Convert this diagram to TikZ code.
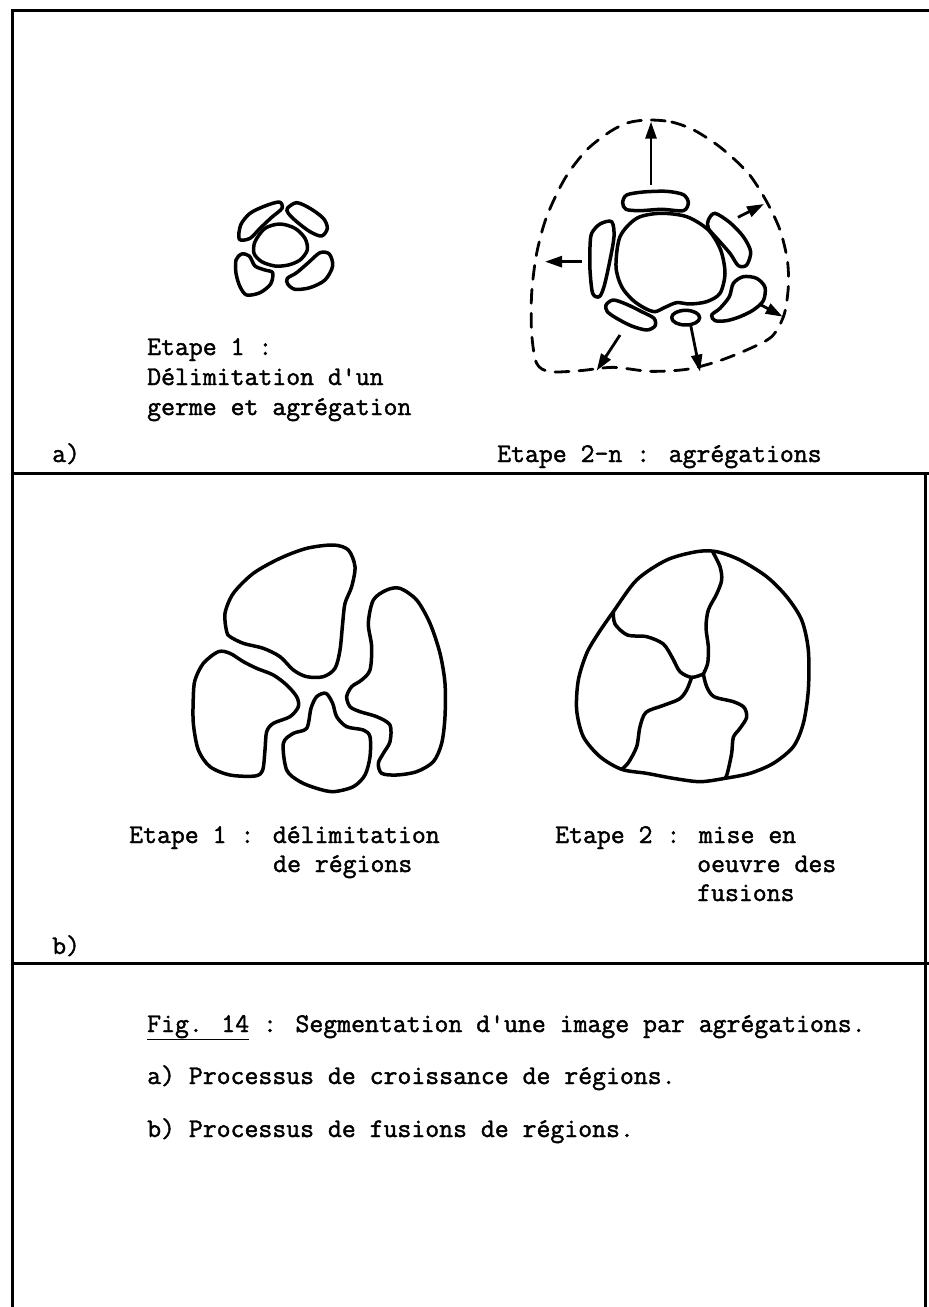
\documentclass[tikz,border=0pt]{standalone}
\usepackage{fontspec}
\newfontfamily\tw[FakeBold=1.6]{Latin Modern Mono}
\usetikzlibrary{arrows.meta}
\begin{document}
\begin{tikzpicture}[x=1pt,y=-1pt,
  blob/.style={line width=3.5pt, line join=round},
  frameline/.style={line width=3pt},
  lbl/.style={font=\tw\fontsize{27}{30}\selectfont, anchor=base west, inner sep=0pt},
  growarrow/.style={line width=2.8pt, -{Triangle[length=17pt,width=11pt]}},
  envelope/.style={line width=2.8pt, dash pattern=on 14pt off 10pt, line cap=round}]
\useasboundingbox (0,0) rectangle (929,1307);
% frame
\draw[frameline] (12,1307) -- (12,10) -- (929,10);
\draw[frameline] (12,473) -- (929,473);
\draw[frameline] (12,963) -- (929,963);
\draw[frameline] (925,473) -- (925,1307);

% a) step 1
\begin{scope}[shift={(200,160)}, scale=1/3]
\draw[blob] plot[smooth cycle] coordinates {(165,245) (195,205) (240,192) (285,205) (315,235) (322,270) (300,300) (265,315) (225,318) (185,305) (162,280)};
\draw[blob] plot[smooth cycle] coordinates {(118,238) (122,195) (150,160) (195,138) (238,126) (246,145) (215,172) (180,205) (150,235)};
\draw[blob] plot[smooth cycle] coordinates {(262,145) (290,128) (330,145) (370,175) (382,205) (365,228) (330,215) (290,185) (265,160)};
\draw[blob] plot[smooth cycle] coordinates {(108,300) (125,282) (148,288) (165,318) (195,330) (218,338) (212,372) (180,398) (140,405) (120,380) (108,340)};
\draw[blob] plot[smooth cycle] coordinates {(262,355) (290,338) (325,308) (360,278) (388,282) (398,318) (375,360) (330,383) (285,388) (263,372)};
\end{scope}

% a) step 2-n
\begin{scope}[shift={(500,0)}, scale=1/3]
\draw[blob] plot[smooth cycle] coordinates {(348,800) (360,710) (410,655) (480,640) (560,650) (625,690) (662,750) (675,820) (660,880) (620,905) (570,912) (530,908) (495,922) (465,935) (435,925) (398,900) (365,860)};
\draw[blob] plot[smooth cycle] coordinates {(368,608) (380,585) (430,576) (500,574) (550,584) (565,608) (550,632) (485,628) (420,632) (378,628)};
\draw[blob] plot[smooth cycle] coordinates {(625,660) (645,640) (690,668) (730,710) (752,755) (740,795) (715,797) (690,760) (655,720) (625,685)};
\draw[blob] plot[smooth cycle] coordinates {(275,700) (300,672) (335,665) (342,710) (328,790) (312,860) (298,890) (278,880) (270,810) (270,740)};
\draw[blob] plot[smooth cycle] coordinates {(318,915) (340,900) (380,913) (425,935) (462,955) (465,978) (440,990) (395,978) (350,955) (322,935)};
\draw[blob] (557,953) ellipse [x radius=42, y radius=22];
\draw[blob] plot[smooth cycle] coordinates {(635,945) (660,925) (688,890) (700,850) (730,830) (770,835) (795,862) (790,902) (760,930) (720,950) (680,962) (645,962)};
\draw[envelope] plot[smooth cycle] coordinates {(445,360) (515,366) (585,392) (665,445) (745,520) (800,605) (840,690) (862,780) (865,860) (852,945) (815,1010) (740,1050) (650,1085) (560,1108) (450,1114) (340,1102) (240,1112) (150,1115) (110,1090) (95,1000) (95,880) (110,760) (140,650) (195,535) (260,450) (330,395) (385,368)};
\coordinate (u1) at (453,555); \coordinate (u2) at (453,365);
\coordinate (r1) at (714,652); \coordinate (r2) at (792,612);
\coordinate (l1) at (245,785); \coordinate (l2) at (135,785);
\coordinate (br1) at (778,912); \coordinate (br2) at (848,950);
\coordinate (bl1) at (360,1005); \coordinate (bl2) at (290,1112);
\coordinate (b1) at (572,975); \coordinate (b2) at (600,1115);
\draw[growarrow] (u1) -- (u2);
\draw[growarrow] (r1) -- (r2);
\draw[growarrow] (l1) -- (l2);
\draw[growarrow] (br1) -- (br2);
\draw[growarrow] (bl1) -- (bl2);
\draw[growarrow] (b1) -- (b2);
\end{scope}

% b) step 1
\begin{scope}[shift={(180,540)}, scale=1/3]
\draw[blob] plot[smooth cycle] coordinates {(140,275) (135,220) (160,160) (220,100) (300,55) (380,25) (460,15) (505,30) (525,80) (515,140) (495,190) (488,250) (480,330) (465,385) (430,410) (380,410) (340,390) (300,350) (250,325) (190,310) (150,290)};
\draw[blob] plot[smooth cycle] coordinates {(45,420) (70,370) (115,335) (150,340) (190,365) (230,385) (280,405) (320,435) (350,470) (355,500) (330,530) (280,550) (260,575) (255,630) (248,690) (225,708) (150,705) (90,680) (55,630) (40,550) (40,470)};
\draw[blob] plot[smooth cycle] coordinates {(320,690) (310,610) (340,580) (380,565) (393,505) (410,470) (438,460) (458,490) (470,530) (500,560) (550,570) (570,590) (570,650) (555,705) (520,740) (460,755) (410,745) (360,725)};
\draw[blob] plot[smooth cycle] coordinates {(580,180) (620,150) (660,145) (710,180) (750,250) (780,340) (795,430) (795,530) (785,610) (760,665) (710,695) (650,705) (605,700) (595,670) (610,640) (630,605) (630,555) (590,530) (540,515) (510,500) (500,470) (515,440) (545,420) (570,390) (575,320) (565,250)};
\end{scope}

% b) step 2
\begin{scope}[shift={(540,540)}, scale=1/3]
\draw[blob] plot[smooth cycle] coordinates {(220,215) (290,120) (380,60) (470,35) (530,35) (600,60) (680,110) (740,170) (785,240) (805,330) (805,450) (790,550) (760,620) (700,670) (630,700) (555,715) (480,725) (400,715) (320,700) (245,688) (180,650) (130,590) (110,510) (115,420) (140,340) (175,280)};
\draw[blob] plot[smooth] coordinates {(220,215) (225,252) (262,285) (320,290) (370,312) (398,355) (420,395) (455,412) (490,402)};
\draw[blob] plot[smooth] coordinates {(518,35) (540,80) (545,120) (530,162) (505,210) (498,262) (505,320) (503,370) (490,402)};
\draw[blob] plot[smooth] coordinates {(455,412) (440,450) (418,477) (368,497) (318,517) (300,560) (290,620) (265,668) (245,688)};
\draw[blob] plot[smooth] coordinates {(490,402) (500,440) (522,470) (580,485) (612,502) (620,532) (600,565) (580,592) (575,640) (562,700) (555,715)};
\end{scope}

% texts
\node[lbl] (t1) at (147,355) {Etape 1 :};
\node[lbl] (t2) at (147,385) {Délimitation d'un};
\node[lbl] (t3) at (147,415) {germe et agrégation};
\node[lbl] (ta) at (52,462) {a)};
\node[lbl] (t4) at (497,462) {Etape 2-n : agrégations};
\node[lbl] (t5) at (129,843) {Etape 1 : délimitation};
\node[lbl] (t6) at (273,872) {de régions};
\node[lbl] (t7) at (555,843) {Etape 2 : mise en};
\node[lbl] (t8) at (697,872) {oeuvre des};
\node[lbl] (t9) at (697,901) {fusions};
\node[lbl] (tb) at (52,954) {b)};
\node[lbl] (c1) at (147,1032) {\underline{Fig. 14} : Segmentation d'une image par agrégations.};
\node[lbl] (c2) at (147,1084) {a) Processus de croissance de régions.};
\node[lbl] (c3) at (147,1137) {b) Processus de fusions de régions.};
\end{tikzpicture}
\end{document}
